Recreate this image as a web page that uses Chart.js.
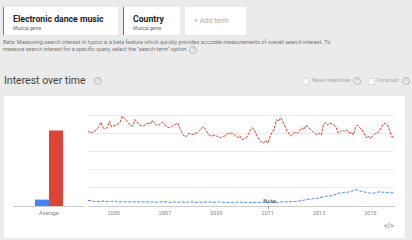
<!DOCTYPE html>
<html><head><meta charset="utf-8">
<script src="https://cdn.jsdelivr.net/npm/chart.js@4/dist/chart.umd.min.js"></script>
<style>
html,body{margin:0;padding:0;}
body{width:412px;height:240px;background:#ebebeb;font-family:Roboto,"Liberation Sans",Arial,sans-serif;position:relative;overflow:hidden;}
.card{position:absolute;top:7px;height:28px;background:#fff;box-sizing:border-box;}
.card .t{position:absolute;left:9px;top:7px;font-size:8.7px;font-weight:bold;color:#222;white-space:nowrap;}
.card .s{position:absolute;left:9px;top:19px;font-size:4.5px;color:#666;white-space:nowrap;}
.beta{position:absolute;left:3px;top:39px;font-size:5.5px;line-height:7px;color:#777;white-space:nowrap;}
.q{display:inline-block;width:6px;height:6px;border:1px solid #bbb;border-radius:50%;font-size:4.5px;line-height:6px;text-align:center;color:#aaa;vertical-align:middle;}
.iot{position:absolute;left:4px;top:74px;font-size:10.5px;color:#444;}
.panel{position:absolute;left:4px;top:96px;width:401px;height:142px;background:#fff;}
.abs{position:absolute;}
.opt{position:absolute;top:77px;font-size:5.5px;color:#aaa;white-space:nowrap;line-height:7px;}
.cb{position:absolute;top:78px;width:5px;height:5px;border:1px solid #ddd;background:#fff;}
canvas{position:absolute;}
.embed{position:absolute;left:384px;top:222px;font-size:7px;color:#999;font-weight:bold;}
</style></head><body>
<div class="card" style="left:3px;width:115px;border-left:1px solid #4285f4;"><div class="t">Electronic dance music</div><div class="s">Musical genre</div></div>
<div class="card" style="left:123px;width:57px;border-left:1px solid #db4437;"><div class="t">Country</div><div class="s">Musical genre</div></div>
<div class="card" style="left:185px;width:61px;"><div class="t" style="font-weight:normal;color:#aaa;font-size:7px;top:10px;left:9px;">+ Add term</div></div>
<div class="beta">Beta: Measuring search interest in <i>topics</i> is a beta feature which quickly provides accurate measurements of overall search interest. To<br>measure search interest for a specific query, select the "search term" option. <span class="q">?</span></div>
<div class="iot">Interest over time <span class="q" style="margin-left:6px;">?</span></div>
<div class="cb" style="left:302px;"></div>
<div class="opt" style="left:312px;">News headlines</div>
<div class="opt" style="left:353px;"><span class="q">?</span></div>
<div class="cb" style="left:368px;"></div>
<div class="opt" style="left:377px;">Forecast</div>
<div class="opt" style="left:402px;"><span class="q">?</span></div>
<div class="panel"></div>
<canvas id="bar" style="left:13px;top:105px;width:72px;height:115px;" width="72" height="115"></canvas>
<canvas id="line" style="left:84px;top:105px;width:314px;height:115px;" width="314" height="115"></canvas>
<div class="embed">&lt;/&gt;</div>
<script>
const seriesNames = ['Electronic dance music','Country'];
const colors = ['#4285f4','#db4437'];
const averages = [7, 83];
const startYear = 2004, endYear = 2015;
const tickYears = ['2005','2007','2009','2011','2013','2015'];
const noteMonth = '2011-01';
const country = [
83,80,81,82,84,87,92,86,85,86,93,87,
88,89,90,92,99,96,94,91,88,88,95,92,
89,88,88,90,91,90,94,91,89,89,91,92,
89,87,86,87,89,90,91,85,80,77,76,80,
79,78.5,79.5,80.5,83,85,87,84,80,77,77,78,
77,76,75,76,77,79,80,80,79,77,75,77,
73,74,75,79,84,86,82,77,73,70,69,72,
69,76,81,84,95,93,97,93,88,83,79,77,
80,81,80,83,86,84,89,86,84,82,80,78,
80,78,89,92,89,91,90,89,86,80,82,83,
82,84,80,81,78,86,89,86,84,80,75,77,
74,77,79,80,82,86,90,91,89,83,76,76];
const edm = [
6,6,5.5,5,5,5,5,5.5,5,5,5,5,
5.5,5,4.5,4.5,4.5,4.5,4.5,4.5,4.5,4.5,4.5,4.5,
4.5,4.5,4.5,4.5,4.5,4,4.5,4.5,4,4.5,4.5,4.5,
4.5,4.5,4,4,4.5,4.5,4,4.5,4.5,4,4,4.5,
4.5,4.5,4,4,4.5,4,4,4.5,4.5,4.5,4,4,
4.5,4.5,4.5,4,4,4,4,4,4,4,4.5,4.5,
4,4,4,4,4,4,4,4,4,4,4,4,
4,4,4,4,4,4,4.5,4.5,4.5,4.5,4.5,5,
5,5,5.5,5.5,6,6.5,7,7.5,7.5,8,8,8.5,
9,9.5,10,10.5,11,11,11.5,12,13,14,14,14.5,
15,15,15.5,16,17,18,17.5,16.5,16,15.5,15,14.5,
14,14,14.5,15,15.5,15.5,15,15,15,14.5,14.5,14.5];

const months = [];
for (let y = startYear; y <= endYear; y++) for (let m = 1; m <= 12; m++) months.push(y + '-' + String(m).padStart(2,'0'));

const tickFont = {family:'Roboto, "Liberation Sans", Arial, sans-serif', size:5.5};

new Chart(document.getElementById('bar'), {
  type:'bar',
  data:{labels:['Average'], datasets: seriesNames.map((n,i)=>({label:n,data:[averages[i]],backgroundColor:colors[i],borderWidth:0}))},
  options:{responsive:false,animation:false,events:[],
    layout:{padding:{top:10,left:0,right:0,bottom:0}},
    plugins:{legend:{display:false},tooltip:{enabled:false}},
    datasets:{bar:{categoryPercentage:0.39,barPercentage:1}},
    scales:{
      x:{grid:{display:false,drawTicks:false},border:{display:true,color:'#ccc',width:1},ticks:{color:'#888',font:tickFont,padding:4},afterFit:s=>{s.height=14;}},
      y:{display:false,min:0,max:100}
    }}
});

const notePlugin = {
  id:'note',
  afterDatasetsDraw(chart){
    const ctx = chart.ctx, xs = chart.scales.x, ys = chart.scales.y;
    const x = xs.getPixelForValue(months.indexOf(noteMonth));
    const y0 = ys.getPixelForValue(0);
    ctx.save();
    ctx.strokeStyle = '#999'; ctx.lineWidth = 1;
    ctx.beginPath(); ctx.moveTo(Math.round(x)+0.5, y0); ctx.lineTo(Math.round(x)+0.5, y0+3); ctx.stroke();
    ctx.fillStyle = '#444'; ctx.font = '6px Roboto, "Liberation Sans", Arial, sans-serif';
    ctx.textAlign = 'center'; ctx.textBaseline = 'middle';
    ctx.fillText('Note', x+2, y0-5);
    ctx.restore();
  }
};

new Chart(document.getElementById('line'), {
  type:'line',
  data:{labels:months, datasets:[
    {label:seriesNames[0],data:edm,borderColor:colors[0],borderWidth:1,borderDash:[3,1.5],pointRadius:0,tension:0,fill:false},
    {label:seriesNames[1],data:country,borderColor:colors[1],borderWidth:1,borderDash:[3,1],pointRadius:0,tension:0,fill:false}
  ]},
  plugins:[notePlugin],
  options:{responsive:false,animation:false,events:[],
    layout:{padding:{top:10,left:0,right:2,bottom:0}},
    plugins:{legend:{display:false},tooltip:{enabled:false}},
    scales:{
      x:{grid:{display:false,drawTicks:false},border:{display:true,color:'#ccc',width:1},
         ticks:{autoSkip:false,maxRotation:0,minRotation:0,color:'#888',font:tickFont,padding:4,
           callback:(v,i)=>{const l=months[i]; return (l.endsWith('-01') && tickYears.includes(l.slice(0,4))) ? l.slice(0,4) : '';}},
         afterFit:s=>{s.height=14;}},
      y:{min:0,max:100,ticks:{display:false,stepSize:20},grid:{color:'#ececec',drawTicks:false},border:{display:false},afterFit:s=>{s.width=0;}}
    }}
});
</script>
</body></html>
